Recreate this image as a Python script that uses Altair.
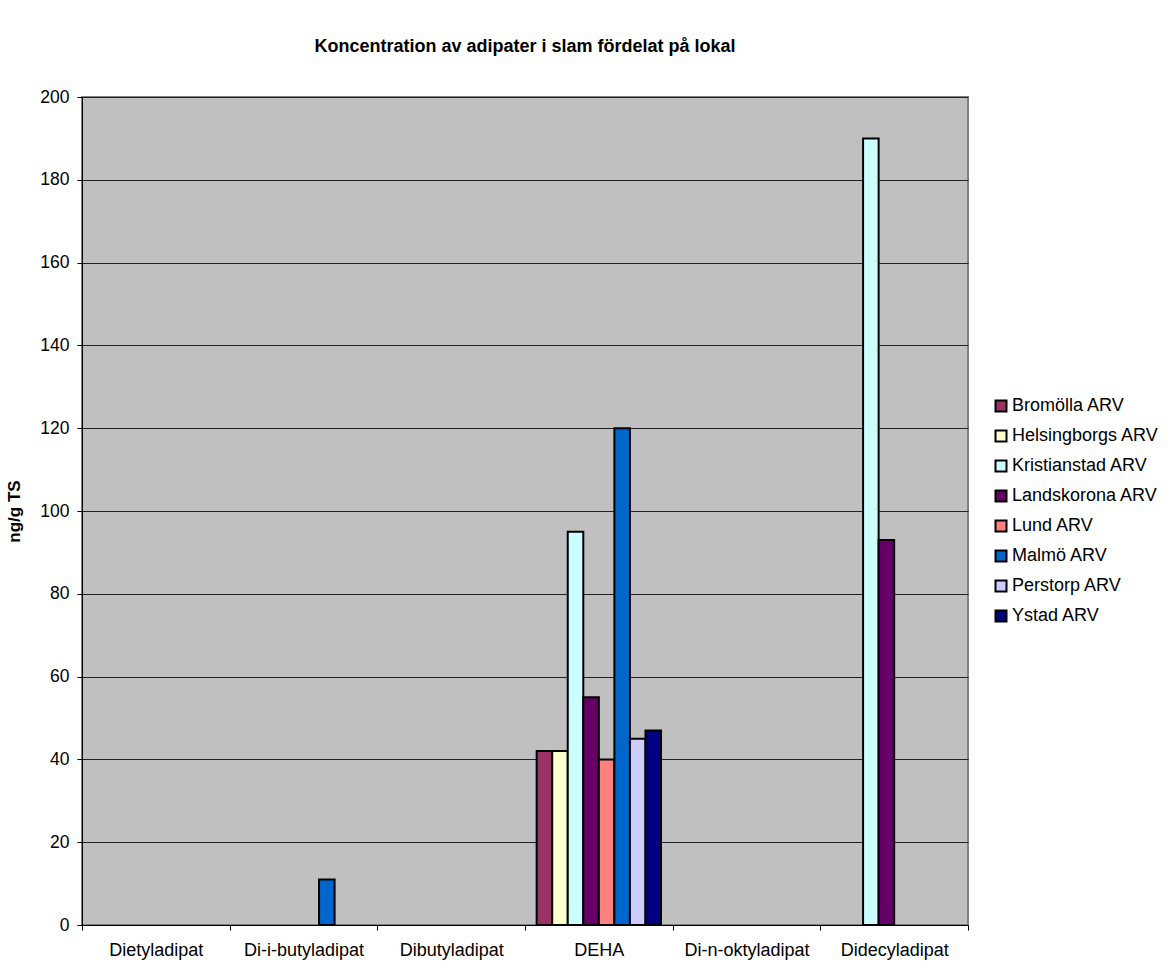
import altair as alt
import pandas as pd

# Compounds along the x axis
compounds = ["Dietyladipat", "Di-i-butyladipat", "Dibutyladipat", "DEHA",
             "Di-n-oktyladipat", "Didecyladipat"]

# Treatment plants (series)
plants = ["Bromölla ARV", "Helsingborgs ARV", "Kristianstad ARV", "Landskorona ARV",
          "Lund ARV", "Malmö ARV", "Perstorp ARV", "Ystad ARV"]

plant_colors = ["#993366", "#FFFFCC", "#CCFFFF", "#660066",
                "#FF8080", "#0066CC", "#CCCCFF", "#000080"]

# Concentrations (ng/g TS) per plant, one entry per compound; None = not detected
bromolla     = [None, None, None, 42, None, None]
helsingborgs = [None, None, None, 42, None, None]
kristianstad = [None, None, None, 95, None, 190]
landskorona  = [None, None, None, 55, None, 93]
lund         = [None, None, None, 40, None, None]
malmo        = [None, 11,   None, 120, None, None]
perstorp     = [None, None, None, 45, None, None]
ystad        = [None, None, None, 47, None, None]

series_values = [bromolla, helsingborgs, kristianstad, landskorona,
                 lund, malmo, perstorp, ystad]

y_ticks = list(range(0, 201, 20))

rows = []
for plant, vals in zip(plants, series_values):
    for comp, v in zip(compounds, vals):
        if v is not None:
            rows.append({"compound": comp, "plant": plant, "value": v})
df = pd.DataFrame(rows)

FONT = "Liberation Sans"

bars = alt.Chart(df).mark_bar(stroke="black", strokeWidth=2, strokeJoin="miter").encode(
    x=alt.X("compound:N", sort=compounds,
            scale=alt.Scale(domain=compounds, paddingInner=0, paddingOuter=0),
            axis=alt.Axis(title=None, labelAngle=0, labelFontSize=18, labelFont=FONT,
                          labelColor="black", tickBand="extent", tickSize=5,
                          tickColor="black", domainColor="black", labelPadding=11,
                          grid=False)),
    xOffset=alt.XOffset("plant:N",
                        scale=alt.Scale(domain=plants, paddingInner=0, paddingOuter=0.75)),
    y=alt.Y("value:Q",
            scale=alt.Scale(domain=[0, 200], nice=False),
            axis=alt.Axis(title="ng/g TS", titleFontSize=17, titleFont=FONT,
                          titleFontWeight="bold", titleColor="black", titlePadding=16,
                          values=y_ticks, labelFontSize=17.5, labelFont=FONT,
                          labelColor="black", tickSize=5, tickColor="black",
                          domainColor="black", labelPadding=8,
                          grid=True, gridColor="#222222", gridWidth=1)),
    color=alt.Color("plant:N",
                    scale=alt.Scale(domain=plants, range=plant_colors),
                    legend=alt.Legend(title=None, orient="none", legendX=910, legendY=300,
                                      symbolType="square", symbolSize=121,
                                      symbolStrokeColor="black", symbolStrokeWidth=2,
                                      labelFontSize=18, labelFont=FONT, labelColor="black",
                                      rowPadding=10, labelOffset=2)),
)

chart = bars.properties(
    width=886,
    height=828,
    title=alt.TitleParams("Koncentration av adipater i slam fördelat på lokal",
                          fontSize=18, font=FONT, fontWeight="bold", color="black",
                          anchor="middle", offset=32),
    padding={"left": 82, "top": 97, "right": 205, "bottom": 42},
    autosize=alt.AutoSizeParams(type="none"),
    background="white",
).configure_view(
    fill="#C0C0C0", stroke="#808080", strokeWidth=2
)

chart.save("out.html", embed_options={"renderer": "svg", "actions": False})
